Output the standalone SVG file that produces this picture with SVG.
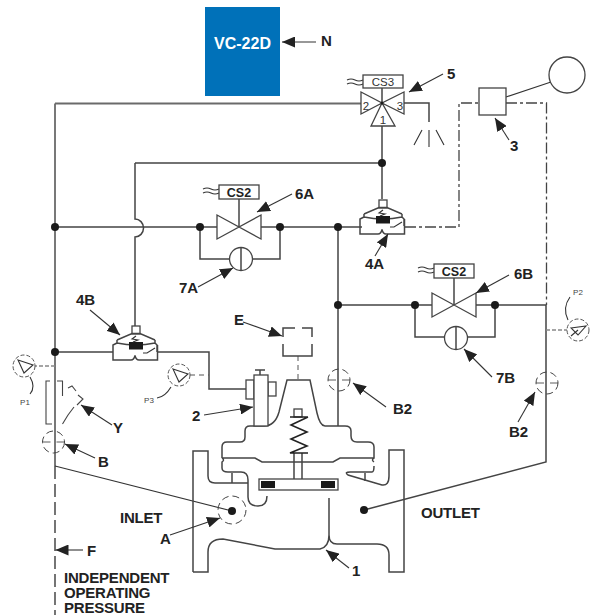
<svg xmlns="http://www.w3.org/2000/svg" xmlns:xlink="http://www.w3.org/1999/xlink" width="597" height="615" viewBox="0 0 597 615">
<style>
.l{fill:none;stroke:#444;stroke-width:1.5}
.t{fill:none;stroke:#333;stroke-width:1.1}
.g{fill:none;stroke:#6a6a6a;stroke-width:1.8}
.dd{fill:none;stroke:#444;stroke-width:1.3;stroke-dasharray:11 3 3 3}
.d{fill:none;stroke:#555;stroke-width:1;stroke-dasharray:5 4}
.gd{fill:none;stroke:#888;stroke-width:1.3;stroke-dasharray:4 2}
.a{fill:none;stroke:#333;stroke-width:1.1;marker-end:url(#ah)}
.s{fill:#fff;stroke:#444;stroke-width:1.3}
.n{fill:#1a1a1a}
.b{font:bold 15px "Liberation Sans",Arial,sans-serif;fill:#222}
.c{font:bold 15px "Liberation Sans",Arial,sans-serif;fill:#222;letter-spacing:-.2px}
.k{font:bold 12.5px "Liberation Sans",Arial,sans-serif;fill:#222}
.m{font:11.5px "Liberation Sans",Arial,sans-serif;fill:#333}
.p{font:8px "Liberation Sans",Arial,sans-serif;fill:#444}
</style>
<defs>
<marker id="ah" markerUnits="userSpaceOnUse" markerWidth="14" markerHeight="11" refX="13" refY="5.5" orient="auto"><path d="M0,0L13,5.500L0,11z" fill="#222"/></marker>
<g id="pilot">
<rect x="132" y="326" width="8" height="8" class="s"/>
<path class="l" d="M117,340L132,333.500H140L155,340M117,340V343Q136,347 155,343V340M113,352V345L117,343M157,352V345L155,343M113,345V360H131Q134,360 135,355.500Q136,360 139,360H157.500V345"/>
<rect x="129" y="342" width="14" height="7.500" class="n"/>
<path class="t" d="M136,336L132,339L138,340L133,342M143,353H147L155,348"/>
</g>
<g id="sq"><path class="t" d="M0,0q4,-2 8,0t8,0M0,4q4,-2 8,0t8,0"/></g>
<g id="sol"><path class="s" d="M-22,-12V12L22,-12V12z"/></g>
<g id="gauge"><circle r="11" fill="#fff" stroke="#555" stroke-width="1" stroke-dasharray="4 2"/></g>
<g id="cock"><circle r="11" fill="none" stroke="#444" stroke-width="1" stroke-dasharray="7 4"/><path fill="none" stroke="#333" stroke-width=".8" d="M-11,0H-3M3,0H11"/></g>
</defs>

<g id="connectors">
<path class="g" d="M55,103.500V466M55,103.500H361"/>
<path d="M55,466V615" fill="none" stroke="#666" stroke-width="1.8" stroke-dasharray="13 5"/>
<path class="l" d="M55,227H217M261,227H362M135,163H382M135,163V219A8.500,9 0 0 1 135,237V326M382,126V199M404,103H429V122M55,352H113M157,352H209V389H246"/>
<path class="t" d="M429,130V147M422,130L414,145M436,130L444,145"/>
<path class="l" d="M200,227V259H229.500M252.500,259H280V227M338,227V426M338,305H432M476,305H546M415,305V337H444.500M467.500,337H495V305"/>
<path class="l" d="M546,305V462L364,510"/>
<path class="dd" d="M405,227H459V103H479M506,103H546.500V305"/>
<path class="t" d="M55,466L232,511M506,97L551,82"/>
<path class="gd" d="M55,366H35M546,330H567"/>
<path class="d" d="M190,375H209M298,356V380" />
</g>

<g id="body">
<path class="l" d="M193,572V451H208V476Q208,483 215,483H248M193,572H208V552Q208,539 223,539L275,549H320Q329,547 329,535M329,498V535Q329,544 337,544H377Q389,544 389,555V572H404V450H389V476Q389,486 382,485L348,475Q344,472 350,472L372,472Q374,472 374,466"/>
<path class="l" d="M232,473V483M365,473V481M222,458H255L262,462H333L340,458H374V447Q374,442 368,442H357Q351,442 351,436V431Q351,426 345,426H325Q320,426 317,413L310,380H287L279,412Q275,426 264,426H250Q245,426 245,431V437Q245,442 240,442H227Q222,442 222,447V458M222,458Q225,460 222,462V468Q222,472 228,472H241Q248,472 248,480V497Q248,506 258,506Q267,506 267,496M374,458Q371,460 374,462"/>
<path class="l" d="M294,453V479M302,453V479"/>
<rect x="259" y="479" width="79" height="11" class="s"/>
<rect x="261" y="481" width="14" height="7" class="n"/><rect x="321" y="481" width="14" height="7" class="n"/>
<rect x="294" y="409" width="8" height="8" class="s"/>
<path d="M290,417H308M308,417L291,425L307,432L291,439L307,446L290,453H308" fill="none" stroke="#222" stroke-width="1.6"/>
</g>

<g id="node-e"><path class="l" d="M283,337V328H295M302,328H312V337M283,344V356H312V344"/></g>
<g id="node-2">
<rect x="246" y="380" width="8" height="19" class="s"/><rect x="268" y="382" width="8" height="14" class="s"/>
<rect x="254" y="375" width="14" height="51" class="s"/>
<path class="l" d="M260,375V370M255,370H265"/>
</g>
<g id="node-5">
<use xlink:href="#sq" href="#sq" x="347" y="80"/>
<rect x="363" y="75" width="40" height="13" class="s"/>
<text x="383" y="86" text-anchor="middle" class="m">CS3</text>
<path class="l" d="M382,88V103"/>
<path class="s" d="M361,92V114L382,103zM404,92V114L382,103zM382,103L371,126H395z"/>
<circle cx="382" cy="103" r="1.500" class="n"/>
<text x="366" y="110" text-anchor="middle" class="m">2</text>
<text x="400" y="110" text-anchor="middle" class="m">3</text>
<text x="383" y="124" text-anchor="middle" class="m">1</text>
</g>
<g id="node-3">
<rect x="479" y="88" width="27" height="27" class="s"/>
<circle cx="567" cy="75" r="18" class="s"/>
</g>
<g id="node-6a">
<use xlink:href="#sq" href="#sq" x="203" y="189"/>
<rect x="219" y="185" width="40" height="14" class="s"/>
<text x="239" y="197" text-anchor="middle" class="k">CS2</text>
<path class="l" d="M239,199V227"/>
<use xlink:href="#sol" href="#sol" x="239" y="227"/>
</g>
<g id="node-7a"><circle cx="241" cy="259" r="11.500" class="s"/><path class="l" d="M241,248V270"/></g>
<g id="node-6b">
<use xlink:href="#sq" href="#sq" x="418" y="268"/>
<rect x="434" y="264" width="40" height="14" class="s"/>
<text x="454" y="276" text-anchor="middle" class="k">CS2</text>
<path class="l" d="M454,278V305"/>
<use xlink:href="#sol" href="#sol" x="454" y="305"/>
</g>
<g id="node-7b"><circle cx="456" cy="338" r="11.500" class="s"/><path class="l" d="M456,327V349"/></g>
<g id="node-4b"><use xlink:href="#pilot" href="#pilot"/></g>
<g id="node-4a"><use xlink:href="#pilot" href="#pilot" x="247" y="-126"/></g>
<g id="node-p1"><use xlink:href="#gauge" href="#gauge" x="24" y="366"/><path class="t" d="M18,360L33,365L24,373z"/><path class="t" d="M30,377Q36,387 30,394"/><text x="25" y="405" text-anchor="middle" class="p">P1</text></g>
<g id="node-p3"><use xlink:href="#gauge" href="#gauge" x="179" y="375"/><path class="t" d="M173,369L188,374L179,382z"/><path class="t" d="M171,387Q165,397 157,398"/><text x="149" y="403" text-anchor="middle" class="p">P3</text></g>
<g id="node-p2"><use xlink:href="#gauge" href="#gauge" x="578" y="330"/><path class="t" d="M571,328L586,326L578,335zM571,336L578,330"/><path class="t" d="M568,320Q562,308 570,297"/><text x="578" y="295" text-anchor="middle" class="p">P2</text></g>
<g id="node-y"><path fill="none" stroke="#444" stroke-width="1.100" d="M50,381H46V424H52M57,381H62.500V396M62.500,424L68,415M68,388L72,386L76,391M78,395L83,399L77,405M74,407L68,415"/></g>
<g id="node-b"><use xlink:href="#cock" href="#cock" x="53.500" y="442"/></g>
<g id="node-b2a"><use xlink:href="#cock" href="#cock" x="339" y="380"/></g>
<g id="node-b2b"><use xlink:href="#cock" href="#cock" x="547" y="383"/></g>
<g id="node-a"><circle cx="232" cy="510" r="14" fill="none" stroke="#444" stroke-width="1" stroke-dasharray="7 4"/></g>
<g id="node-vc22d"><rect x="205" y="7" width="75" height="89" fill="#0071b9"/><text x="242.500" y="49" text-anchor="middle" style="font:bold 16px 'Liberation Sans',Arial,sans-serif;fill:#fff">VC-22D</text></g>

<g id="junctions">
<circle class="n" cx="55" cy="227" r="4"/><circle class="n" cx="55" cy="352" r="4"/>
<circle class="n" cx="382" cy="163" r="4"/><circle class="n" cx="200" cy="227" r="4"/><circle class="n" cx="280" cy="227" r="4"/>
<circle class="n" cx="338" cy="227" r="4"/><circle class="n" cx="338" cy="305" r="4"/><circle class="n" cx="415" cy="305" r="4"/><circle class="n" cx="495" cy="305" r="4"/>
<circle class="n" cx="232" cy="511" r="4"/><circle class="n" cx="364" cy="510" r="4"/>
</g>

<g id="callouts">
<path class="a" d="M316,42H282"/>
<path class="a" d="M443,74L409,92"/>
<path class="a" d="M509,140L495,118"/>
<path class="a" d="M292,194L257,212"/>
<path class="a" d="M198,287L233,268"/>
<path class="a" d="M375,256L388,234"/>
<path class="a" d="M509,275L476,293"/>
<path class="a" d="M492,377L464,349"/>
<path class="a" d="M90,310L120,335"/>
<path class="a" d="M243,322L282,336"/>
<path class="a" d="M204,415L253,407"/>
<path class="a" d="M386,407L353,383"/>
<path class="a" d="M518,422L535,392"/>
<path class="a" d="M112,425L81,405"/>
<path class="a" d="M95,458L65,444"/>
<path class="a" d="M170,535L220,518"/>
<path class="a" d="M349,568L326,550"/>
<path class="a" d="M83,550H55.500"/>
</g>
<g id="labels">
<text x="321" y="46" class="b">N</text>
<text x="447" y="79" class="b">5</text>
<text x="510" y="151" class="b">3</text>
<text x="295" y="199" class="b">6A</text>
<text x="179" y="293" class="b">7A</text>
<text x="365" y="269" class="b">4A</text>
<text x="514" y="279" class="b">6B</text>
<text x="496" y="383" class="b">7B</text>
<text x="76" y="305" class="b">4B</text>
<text x="234" y="325" class="b">E</text>
<text x="192" y="421" class="b">2</text>
<text x="393" y="414" class="b">B2</text>
<text x="509" y="437" class="b">B2</text>
<text x="113" y="433" class="b">Y</text>
<text x="98" y="467" class="b">B</text>
<text x="160" y="544" class="b">A</text>
<text x="87" y="556" class="b">F</text>
<text x="352" y="576" class="b">1</text>
<text x="120" y="523" class="c">INLET</text>
<text x="421" y="518" class="c">OUTLET</text>
<text x="64" y="583" class="c">INDEPENDENT</text>
<text x="64" y="598" class="c">OPERATING</text>
<text x="64" y="613" class="c">PRESSURE</text>
</g>
</svg>
